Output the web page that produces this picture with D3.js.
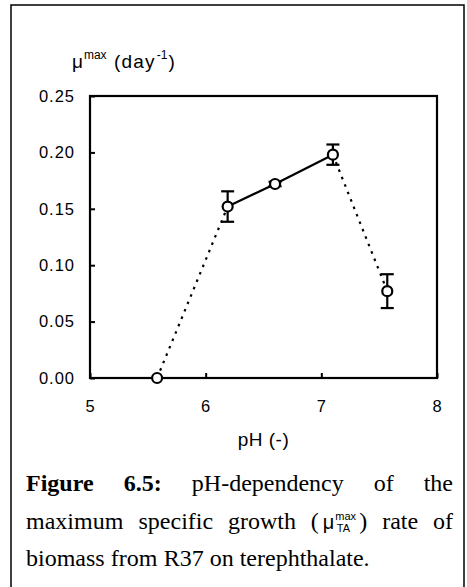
<!DOCTYPE html>
<html>
<head>
<meta charset="utf-8">
<script src="https://cdn.jsdelivr.net/npm/d3@7"></script>
<style>
  html, body { margin: 0; padding: 0; background: #fff; }
  svg { display: block; }
  .axis text { font-family: "Liberation Sans", Arial, sans-serif; font-size: 16.5px; fill: #000; letter-spacing: 1px; }
  .axis path, .axis line { stroke: #000; stroke-width: 2; }
</style>
</head>
<body>
<svg id="fig" width="467" height="587"></svg>
<script>
// pH-dependency of the maximum specific growth rate on terephthalate
const pH     = [5.58, 6.19, 6.6, 7.1, 7.57];
const muMax  = [0.0, 0.152, 0.172, 0.198, 0.077];
const muErr  = [0.0, 0.0135, 0.002, 0.009, 0.015];
// segment styles between consecutive points: dotted or solid
const segmentStyle = ["dotted", "solid", "solid", "dotted"];
const xTicks = [5, 6, 7, 8];
const yTicks = [0, 0.05, 0.10, 0.15, 0.20, 0.25];

const svg = d3.select("#fig");
const sans = "Liberation Sans, Arial, sans-serif";

// outer frame around the figure
svg.append("path")
  .attr("d", "M11,587 L11,5 L464,5 L464,587")
  .attr("fill", "none").attr("stroke", "#000").attr("stroke-width", 1.5);

const plot = { left: 90, right: 437, top: 96, bottom: 378 };
const x = d3.scaleLinear().domain([5, 8]).range([plot.left, plot.right]);
const y = d3.scaleLinear().domain([0, 0.25]).range([plot.bottom, plot.top]);

// plot box
svg.append("rect")
  .attr("x", plot.left).attr("y", plot.top)
  .attr("width", plot.right - plot.left).attr("height", plot.bottom - plot.top)
  .attr("fill", "none").attr("stroke", "#000").attr("stroke-width", 2.2);

svg.append("g").attr("class", "axis")
  .attr("transform", `translate(${plot.left},0)`)
  .call(d3.axisLeft(y).tickValues(yTicks).tickFormat(d3.format(".2f"))
        .tickSizeInner(-5).tickSizeOuter(0).tickPadding(15));

svg.append("g").attr("class", "axis")
  .attr("transform", `translate(0,${plot.bottom})`)
  .call(d3.axisBottom(x).tickValues(xTicks).tickFormat(d3.format("d"))
        .tickSizeInner(-5).tickSizeOuter(0).tickPadding(22));

svg.selectAll(".axis .domain").remove();

// axis titles
const yTitle = svg.append("text")
  .attr("x", 72).attr("y", 68)
  .attr("font-family", sans)
  .attr("font-size", 19);
yTitle.append("tspan").text("μ");
yTitle.append("tspan").attr("font-size", 12).attr("dy", -9).attr("dx", 1).text("max");
yTitle.append("tspan").attr("x", 114).attr("dy", 9).attr("letter-spacing", 1.2).text("(day");
yTitle.append("tspan").attr("font-size", 12).attr("dy", -9).attr("dx", 1).text("-1");
yTitle.append("tspan").attr("dy", 9).attr("dx", 1).text(")");

svg.append("text")
  .attr("x", (plot.left + plot.right) / 2).attr("y", 446)
  .attr("text-anchor", "middle")
  .attr("font-family", sans)
  .attr("font-size", 19).attr("letter-spacing", 0.5)
  .text("pH (-)");

// connecting segments
const pts = pH.map((p, i) => ({ p, m: muMax[i], e: muErr[i] }));
for (let i = 0; i < pts.length - 1; i++) {
  const a = pts[i], b = pts[i + 1];
  const seg = svg.append("line")
    .attr("x1", x(a.p)).attr("y1", y(a.m))
    .attr("x2", x(b.p)).attr("y2", y(b.m))
    .attr("stroke", "#000").attr("stroke-width", 2.2);
  if (segmentStyle[i] === "dotted") seg.attr("stroke-dasharray", "2.5,5.5");
}

// error bars
const eb = svg.append("g").attr("stroke", "#000").attr("stroke-width", 2.2);
pts.filter(d => d.e > 0).forEach(d => {
  const cx = x(d.p);
  eb.append("line").attr("x1", cx).attr("x2", cx).attr("y1", y(d.m - d.e)).attr("y2", y(d.m + d.e));
  [d.m - d.e, d.m + d.e].forEach(v =>
    eb.append("line").attr("x1", cx - 6.5).attr("x2", cx + 6.5).attr("y1", y(v)).attr("y2", y(v)));
});

// open circle markers
svg.append("g").selectAll("circle").data(pts).join("circle")
  .attr("cx", d => x(d.p)).attr("cy", d => y(d.m)).attr("r", 5)
  .attr("fill", "#fff").attr("stroke", "#000").attr("stroke-width", 2.2);

// caption, justified between the frame margins
const capLeft = 26, capRight = 453, capFont = "Liberation Serif, Times New Roman, serif", capSize = 24;
const captionLines = [
  { y: 491, justify: true, words: [
      { t: "Figure", bold: true }, { t: "6.5:", bold: true },
      { t: "pH-dependency" }, { t: "of" }, { t: "the" } ] },
  { y: 529, justify: true, words: [
      { t: "maximum" }, { t: "specific" }, { t: "growth" }, { mu: true },
      { t: "rate" }, { t: "of" } ] },
  { y: 566, justify: false, words: [
      { t: "biomass" }, { t: "from" }, { t: "R37" }, { t: "on" }, { t: "terephthalate." } ] }
];

captionLines.forEach(line => {
  const groups = line.words.map(w => {
    const g = svg.append("g");
    if (w.mu) {
      const t = g.append("text").attr("font-family", capFont).attr("font-size", capSize).attr("y", 0);
      t.append("tspan").text("(");
      t.append("tspan").attr("font-family", sans).attr("font-size", 20).text("\u2009μ");
      const w1 = t.node().getComputedTextLength();
      g.append("text").attr("x", w1 + 1).attr("y", -9)
        .attr("font-family", sans).attr("font-size", 11).text("max");
      g.append("text").attr("x", w1 + 2.5).attr("y", 3)
        .attr("font-family", sans).attr("font-size", 11).text("TA");
      g.append("text").attr("x", w1 + 25).attr("y", 0)
        .attr("font-family", capFont).attr("font-size", capSize).text(")");
    } else {
      g.append("text").attr("font-family", capFont).attr("font-size", capSize)
        .attr("font-weight", w.bold ? "bold" : "normal").text(w.t);
    }
    return g;
  });
  const widths = groups.map(g => g.node().getBBox().width);
  const total = d3.sum(widths);
  const gap = line.justify ? (capRight - capLeft - total) / (groups.length - 1) : 6;
  let cx = capLeft;
  groups.forEach((g, i) => {
    g.attr("transform", `translate(${cx},${line.y})`);
    cx += widths[i] + gap;
  });
});
</script>
</body>
</html>
